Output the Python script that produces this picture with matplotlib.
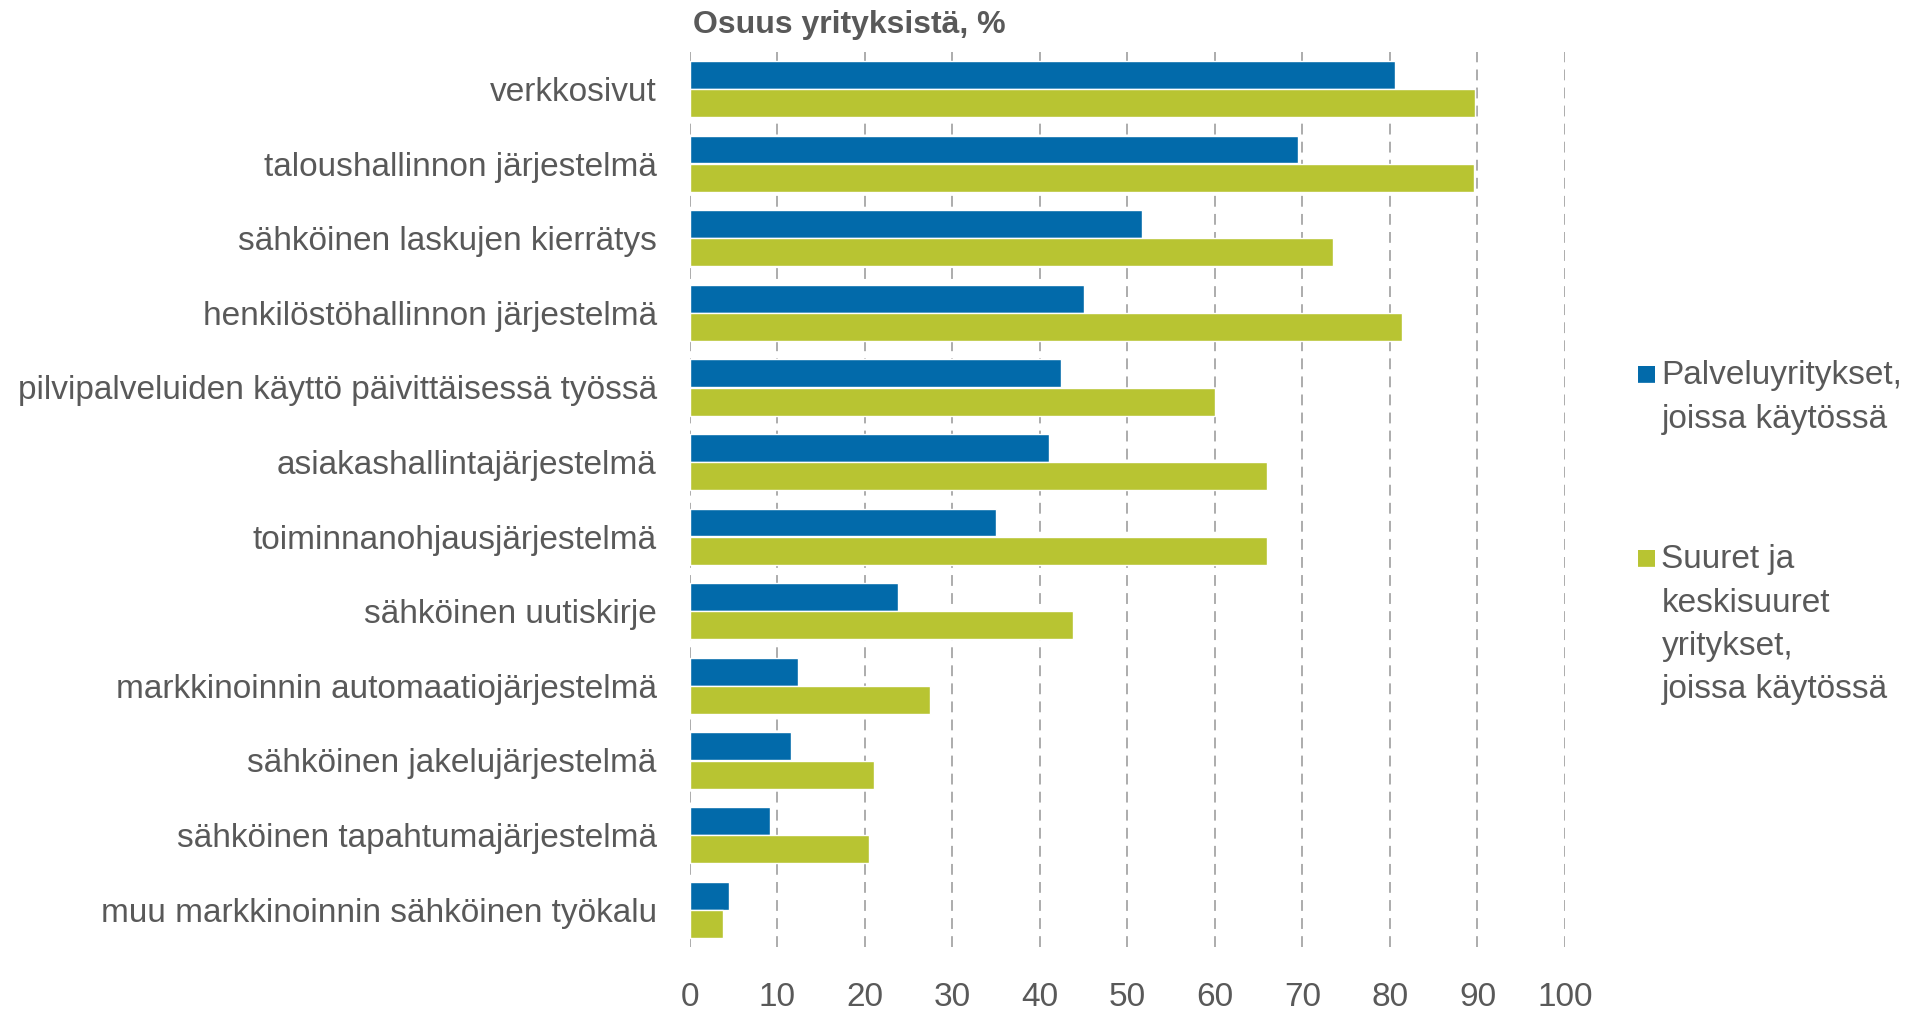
import matplotlib.pyplot as plt
import numpy as np
from matplotlib import font_manager

categories = ['verkkosivut', 'taloushallinnon järjestelmä', 'sähköinen laskujen kierrätys',
              'henkilöstöhallinnon järjestelmä', 'pilvipalveluiden käyttö päivittäisessä työssä',
              'asiakashallintajärjestelmä', 'toiminnanohjausjärjestelmä', 'sähköinen uutiskirje',
              'markkinoinnin automaatiojärjestelmä', 'sähköinen jakelujärjestelmä',
              'sähköinen tapahtumajärjestelmä', 'muu markkinoinnin sähköinen työkalu']
palvelu = [80.6, 69.5, 51.7, 45.0, 42.4, 41.0, 35.0, 23.8, 12.4, 11.6, 9.2, 4.5]
suuret = [89.7, 89.6, 73.5, 81.4, 60.0, 65.9, 65.9, 43.8, 27.4, 21.0, 20.5, 3.8]
ticks = list(range(0, 101, 10))

names = [f.name for f in font_manager.fontManager.ttflist]
narrow = 'Liberation Sans Narrow' if 'Liberation Sans Narrow' in names else 'Liberation Sans'
plt.rcParams['font.family'] = ['Liberation Sans', 'DejaVu Sans']

blue = '#026aaa'
green = '#b8c432'
grey = '#595959'

fig = plt.figure(figsize=(19.23, 10.15), dpi=100)
ax = fig.add_axes([0.3588, 0.067, 0.455, 0.882])

y = np.arange(len(categories))
h = 0.375
ax.barh(y - 0.19, palvelu, height=h, color=blue, edgecolor='white', linewidth=1, zorder=3)
ax.barh(y + 0.19, suuret, height=h, color=green, edgecolor='white', linewidth=1, zorder=3)

ax.set_ylim(len(categories) - 0.5, -0.5)
ax.set_xlim(0, 100)
ax.set_yticks(y)
ax.set_yticklabels(categories, fontsize=24, color=grey)
ax.set_xticks(ticks)
ax.set_xticklabels([str(t) for t in ticks], fontsize=24, color=grey, family=[narrow, 'DejaVu Sans'])
ax.tick_params(axis='y', length=0, pad=24)
ax.tick_params(axis='x', length=0, pad=25)
for s in ax.spines.values():
    s.set_visible(False)
for t in ticks:
    ax.axvline(t, color='#a6a6a6', linestyle=(0, (6, 4)), linewidth=1.3, zorder=1)

fig.text(0.3605, 0.975, 'Osuus yrityksistä, %', fontsize=23, fontweight='bold', color=grey,
         va='center', ha='left', family=[narrow, 'DejaVu Sans'])

# legend
lx = 0.8505
fig.text(lx, 0.632, '■', color=blue, fontsize=16, va='center', family='DejaVu Sans')
fig.text(lx + 0.0135, 0.645, 'Palveluyritykset,\njoissa käytössä', color=grey, fontsize=24,
         va='top', ha='left', linespacing=1.52)
fig.text(lx, 0.451, '■', color=green, fontsize=16, va='center', family='DejaVu Sans')
fig.text(lx + 0.0135, 0.464, 'Suuret ja\nkeskisuuret\nyritykset,\njoissa käytössä', color=grey,
         fontsize=24, va='top', ha='left', linespacing=1.52)

fig.savefig('out.png', dpi=100)
